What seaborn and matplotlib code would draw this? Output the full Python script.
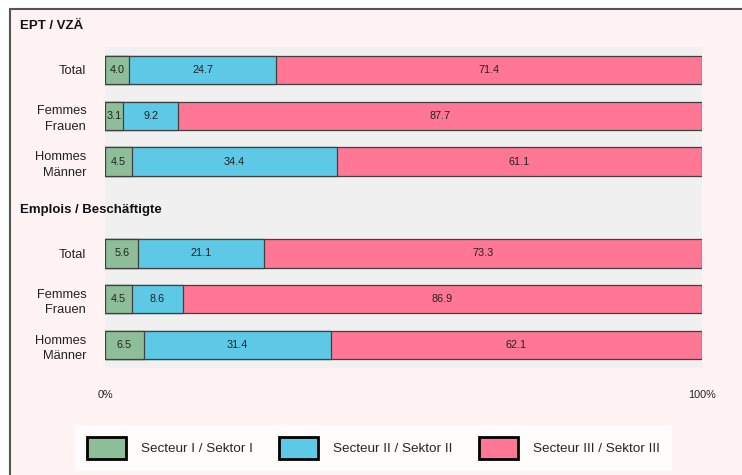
import matplotlib
matplotlib.use("Agg")
import matplotlib.pyplot as plt
from matplotlib.patches import Patch, Rectangle
import pandas as pd
import seaborn as sns

# chart data
sections = ["EPT / VZÄ", "Emplois / Beschäftigte"]
groups = ["Total", "Femmes\nFrauen", "Hommes\nMänner"]
sector_names = ["Secteur I / Sektor I", "Secteur II / Sektor II", "Secteur III / Sektor III"]
sector_1 = [4.0, 3.1, 4.5, 5.6, 4.5, 6.5]
sector_2 = [24.7, 9.2, 34.4, 21.1, 8.6, 31.4]
sector_3 = [71.4, 87.7, 61.1, 73.3, 86.9, 62.1]
colors = ["#8dbe99", "#5dc9e6", "#ff7794"]

# one slot per section header, then one per group
order = []
keys = []
for si, sec in enumerate(sections):
    order.append(f"head{si}")
    for g in groups:
        k = f"{si}:{g}"
        order.append(k)
        keys.append(k)

df = pd.DataFrame({"row": keys, "s1": sector_1, "s2": sector_2, "s3": sector_3})
df["c1"] = df["s1"]
df["c2"] = df["s1"] + df["s2"]
df["c3"] = df["c2"] + df["s3"]

sns.set_theme(style="white")
plt.rcParams["font.family"] = ["Liberation Sans", "DejaVu Sans"]

W, H = 742, 475
fig = plt.figure(figsize=(W / 100, H / 100), dpi=100)
fig.patch.set_facecolor("white")
fig.add_artist(Rectangle((10 / W, -0.1), 1.0, (H - 8.5) / H + 0.1,
                         transform=fig.transFigure, facecolor="#fff4f3",
                         edgecolor="#555555", linewidth=1.5, zorder=-1))

ax = fig.add_axes([105 / W, 107 / H, 596.7 / W, 321 / H])
ax.set_facecolor("#f0f0f0")

# stacked bars: draw cumulative totals, widest first
for col, c in zip(["c3", "c2", "c1"], colors[::-1]):
    sns.barplot(data=df, x=col, y="row", order=order, orient="h", color=c,
                width=0.62, edgecolor="#404040", linewidth=0.9, saturation=1,
                errorbar=None, ax=ax)

for _, r in df.iterrows():
    y = order.index(r["row"])
    starts = [0, r["c1"], r["c2"]]
    for start, v in zip(starts, [r["s1"], r["s2"], r["s3"]]):
        ax.text(start + v / 2, y, f"{v:.1f}", ha="center", va="center",
                fontsize=7.8, color="#222222")

ax.set_yticks([order.index(q) for q in keys], [q.split(":")[1] for q in keys])
ax.tick_params(axis="y", length=0, pad=13.5, labelsize=9.3, labelcolor="#222222")
for lbl in ax.get_yticklabels():
    lbl.set_linespacing(1.4)
ax.set_xlim(0, 100)
ax.set_ylim(7.5, 0.5)
ax.set_xticks([0, 100], ["0%", "100%"])
ax.tick_params(axis="x", length=0, pad=16, labelsize=7.8, labelcolor="#222222")
ax.set_xlabel("")
ax.set_ylabel("")
for sp in ax.spines.values():
    sp.set_visible(False)

for si, sec in enumerate(sections):
    ax.text(-85 / 596.7, order.index(f"head{si}") + 0.05, sec,
            transform=ax.get_yaxis_transform(), fontweight="bold",
            fontsize=9.5, va="center", ha="left", clip_on=False,
            color="#111111")

handles = [Patch(facecolor=c, edgecolor="black", linewidth=2) for c in colors]
fs = 9.7
leg = fig.legend(handles, sector_names, loc="center",
                 bbox_to_anchor=(373.5 / W, 27 / H), ncol=3, frameon=True,
                 fancybox=False, fontsize=fs, handlelength=39 / (fs * 100 / 72),
                 handleheight=28 / (fs * 100 / 72), handletextpad=1.1,
                 columnspacing=1.95, borderpad=0.9)
leg.get_frame().set_facecolor("white")
leg.get_frame().set_edgecolor("none")

fig.savefig("out.png", dpi=100)
